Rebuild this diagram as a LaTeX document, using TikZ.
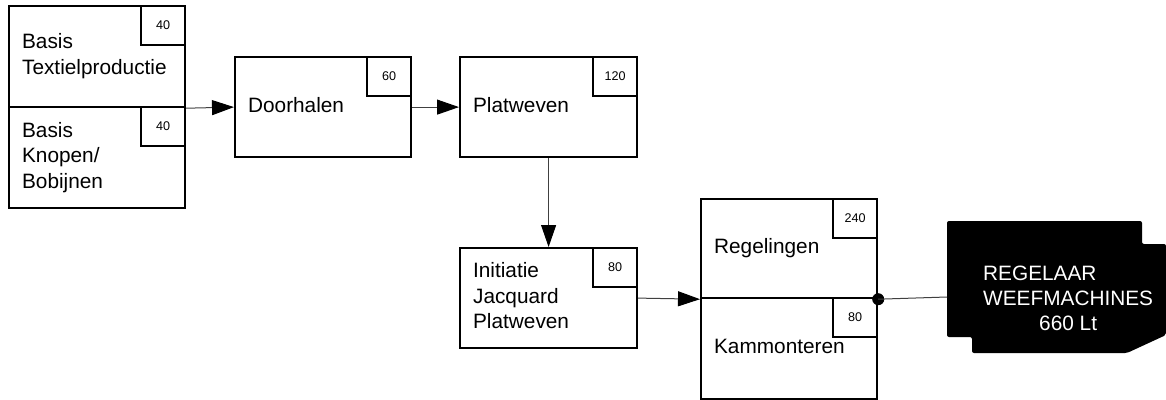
\documentclass[tikz,border=0pt]{standalone}
\usepackage{fontspec}
\setmainfont{Liberation Sans}
\usetikzlibrary{arrows.meta}
\newcommand\boxtxt[1]{\raisebox{-4pt}{\begin{tabular}{@{}l@{}}#1\end{tabular}}}
\begin{document}
\begin{tikzpicture}[x=1pt,y=-1pt,
  procbox/.style={draw, line width=2.2pt, rectangle, inner xsep=13pt, inner ysep=0pt,
    align=left, anchor=north west, font=\fontsize{20.8}{25.7}\selectfont},
  numbox/.style={draw, line width=2.2pt, rectangle, minimum width=44pt, minimum height=39pt,
    inner sep=0pt, anchor=north east, font=\fontsize{12.6}{15}\selectfont},
  plainline/.style={draw=black!75, line width=1pt},
  conn/.style={plainline, -{Triangle[length=22pt,width=15pt,color=black]}}]
\useasboundingbox (0,0) rectangle (1166,399);

% boxes
\node[procbox, text width=150pt, minimum height=101pt] (b1) at (8,5) {\boxtxt{Basis\\Textielproductie}};
\node[numbox] (n1) at (b1.north east) {40};
\node[procbox, text width=150pt, minimum height=101pt] (b2) at (8,106) {\boxtxt{Basis\\Knopen/\\Bobijnen}};
\node[numbox] (n2) at (b2.north east) {40};

\node[procbox, text width=150pt, minimum height=100pt] (door) at (234,56) {\boxtxt{Doorhalen}};
\node[numbox] (n3) at (door.north east) {60};

\node[procbox, text width=151pt, minimum height=100pt] (plat) at (459,56) {\boxtxt{Platweven}};
\node[numbox] (n4) at (plat.north east) {120};

\node[procbox, text width=151pt, minimum height=100pt] (init) at (459,247) {\boxtxt{Initiatie\\Jacquard\\Platweven}};
\node[numbox] (n5) at (init.north east) {80};

\node[procbox, text width=150pt, minimum height=99pt] (reg) at (700,198) {\boxtxt{Regelingen}};
\node[numbox] (n6) at (reg.north east) {240};
\node[procbox, text width=150pt, minimum height=101pt] (kam) at (700,297) {\boxtxt{Kammonteren}};
\node[numbox] (n7) at (kam.north east) {80};

% black shape
\fill[rounded corners=2pt] (947,221) -- (1142,221) -- (1142,244) -- (1166,244) -- (1166,335)
  -- (1127,353) -- (972,353) -- (972,337) -- (947,337) -- cycle;
\coordinate (sh) at (947,297);
\node[anchor=west, text=white, inner sep=0pt, font=\fontsize{20.8}{25}\selectfont] (lbl) at (983,300)
  {\begin{tabular}{@{}l@{}}REGELAAR\\WEEFMACHINES\\\multicolumn{1}{@{}c@{}}{660 Lt}\end{tabular}};

% connectors
\draw[conn] (b1.south east) -- (door.west);
\draw[conn] (door.east) -- (plat.west);
\draw[conn] (plat.south) -- (init.north);
\draw[conn] (init.east) -- (reg.south west);
\node[circle, fill, inner sep=0pt, minimum size=12pt] (dot) at (reg.south east) {};
\draw[plainline] (dot.center) -- (sh);
\end{tikzpicture}
\end{document}
